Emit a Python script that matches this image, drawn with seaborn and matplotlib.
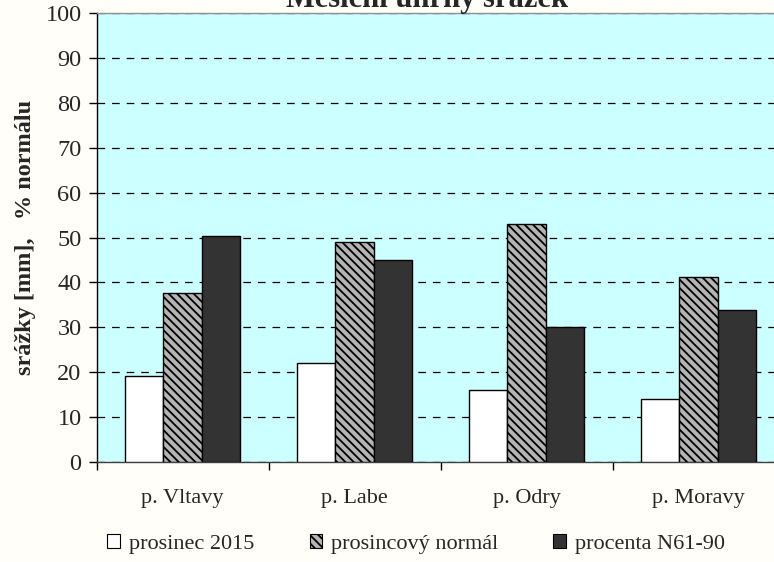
import matplotlib
matplotlib.use("Agg")
import matplotlib.pyplot as plt
from matplotlib.patches import Patch
import seaborn as sns
import pandas as pd

categories = ["p. Vltavy", "p. Labe", "p. Odry", "p. Moravy"]
series_names = ["prosinec 2015", "prosincový normál", "procenta N61-90"]
prosinec_2015 = [19.2, 22.0, 16.1, 14.0]
prosincovy_normal = [37.7, 49.1, 52.9, 41.1]
procenta_n6190 = [50.3, 44.9, 30.1, 33.9]
y_ticks = [0, 10, 20, 30, 40, 50, 60, 70, 80, 90, 100]

face_colors = ["#FFFFFF", "#B4B4B4", "#333333"]
hatches = [None, "\\\\\\\\", None]

df = pd.DataFrame({
    "povodi": categories * 3,
    "rada": [series_names[0]] * 4 + [series_names[1]] * 4 + [series_names[2]] * 4,
    "hodnota": prosinec_2015 + prosincovy_normal + procenta_n6190,
})

sns.set_theme(style="white")
plt.rcParams["font.family"] = ["Liberation Serif", "DejaVu Serif"]
plt.rcParams["hatch.linewidth"] = 1.3
plt.rcParams["lines.scale_dashes"] = False

W, H = 774, 562
fig = plt.figure(figsize=(W / 100, H / 100), dpi=100, facecolor="#FFFEF9")
left, right, top, bottom = 96.5, 784.5, 13, 462
ax = fig.add_axes([left / W, 1 - bottom / H, (right - left) / W, (bottom - top) / H])
ax.set_facecolor("#CCFFFF")

sns.barplot(data=df, x="povodi", y="hodnota", hue="rada", order=categories,
            hue_order=series_names, palette=face_colors, width=0.667,
            edgecolor="black", linewidth=1.0, saturation=1, legend=False,
            ax=ax, zorder=3)

for cont, h in zip(ax.containers, hatches):
    for bar in cont:
        if h:
            bar.set_hatch(h)
        bar.set_edgecolor("black")

ax.set_xlim(-0.5, 3.5)
ax.set_ylim(0, 100)
ax.set_yticks(y_ticks)
ax.yaxis.grid(True, color="black", linewidth=0.9, linestyle=(0, (5.5, 5.0)), zorder=1)
ax.xaxis.grid(False)
ax.set_axisbelow(True)

# category boundaries carry the tick marks, centres carry the labels
ax.set_xticks([-0.5, 0.5, 1.5, 2.5, 3.5])
ax.set_xticklabels([])
ax.set_xticks(range(len(categories)), minor=True)
ax.set_xticklabels(categories, minor=True, fontsize=16)
ax.tick_params(axis="x", which="major", direction="out", length=5.5, width=1,
               color="black", bottom=True)
ax.tick_params(axis="x", which="minor", length=0, pad=19.5)
ax.tick_params(axis="y", direction="out", length=5.8, width=1, color="black",
               left=True, pad=5, labelsize=17.5)

ax.set_xlabel("")
ax.set_ylabel("srážky [mm],   % normálu", fontsize=17.5, fontweight="bold", labelpad=7)

for side in ["top", "left", "bottom", "right"]:
    ax.spines[side].set_visible(True)
ax.spines["left"].set_color("black")
ax.spines["bottom"].set_color("#404040")
ax.spines["top"].set_color("#909090")
for s in ax.spines.values():
    s.set_linewidth(1.0)

fig.text(427.5 / W, 1 - 7 / H, "Měsíční úhrny srážek", ha="center", va="baseline",
         fontsize=22, fontweight="bold")

handles = [Patch(facecolor=c, edgecolor="black", hatch=h, linewidth=0.8)
           for c, h in zip(face_colors, hatches)]
fig.legend(handles, series_names, loc="center", bbox_to_anchor=(416 / W, 1 - 544 / H),
           ncol=3, frameon=False, fontsize=16, handlelength=0.55, handleheight=0.55,
           handletextpad=0.4, columnspacing=2.5, borderpad=0)

fig.savefig("out.png", dpi=100, facecolor=fig.get_facecolor())
